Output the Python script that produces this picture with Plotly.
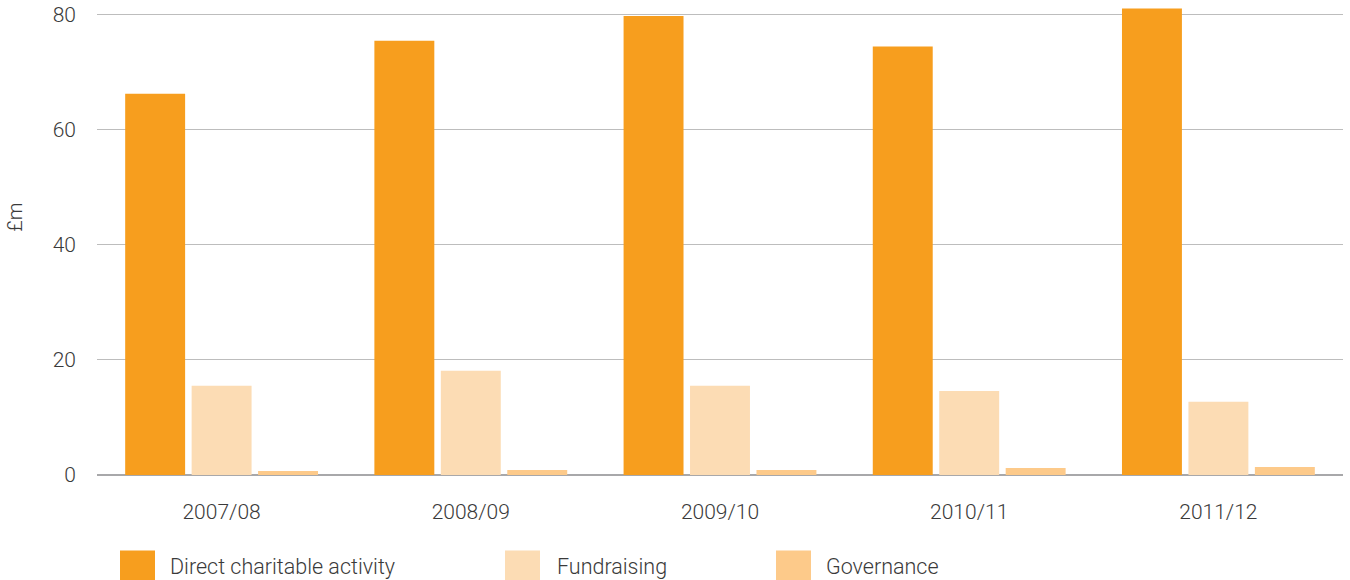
import plotly.graph_objects as go

categories = ["2007/08", "2008/09", "2009/10", "2010/11", "2011/12"]
series_names = ["Direct charitable activity", "Fundraising", "Governance"]
direct = [66.2, 75.4, 79.7, 74.4, 81.0]
fundraising = [15.5, 18.1, 15.5, 14.6, 12.7]
governance = [0.7, 0.85, 0.85, 1.2, 1.4]
y_ticks = [0, 20, 40, 60, 80]
y_title = "£m"

colors = ["#F79E1E", "#FCDCB4", "#FDCA8A"]
values = [direct, fundraising, governance]

FONT = "Roboto"
TXT = "#3a3a3a"
WEIGHT = 300

fig = go.Figure()
for name, vals, col in zip(series_names, values, colors):
    fig.add_trace(go.Bar(x=categories, y=vals, name=name, marker=dict(color=col, line=dict(width=0)),
                         showlegend=False))

W, H = 1350, 580
ml, mr, mt = 97, 7, 2
mb = H - 475.5
pw = W - ml - mr
ph = H - mt - mb
ytop = ph / 5.765

def px_x(px):
    return (px - ml) / pw

def px_y(py):
    return (H - mb - py) / ph

# custom legend
legend_sq = [(120, 155), (505, 540), (776, 811)]
legend_tx = [168, 555, 824]
for (x0, x1), tx, name, col in zip(legend_sq, legend_tx, series_names, colors):
    fig.add_shape(type="rect", xref="paper", yref="paper",
                  x0=px_x(x0), x1=px_x(x1), y0=px_y(551), y1=px_y(600),
                  fillcolor=col, line=dict(width=0))
    fig.add_annotation(xref="paper", yref="paper", x=px_x(tx), y=px_y(567),
                       text=name, showarrow=False, xanchor="left", yanchor="middle",
                       font=dict(family=FONT, size=21.5, color=TXT, weight=WEIGHT))

fig.add_annotation(xref="paper", yref="paper", x=px_x(15), y=px_y(218), text=y_title,
                   textangle=-90, showarrow=False, xanchor="center", yanchor="middle",
                   font=dict(family=FONT, size=20, color=TXT, weight=WEIGHT))

fig.update_layout(
    width=W, height=H,
    margin=dict(l=ml, r=mr, t=mt, b=mb, pad=0),
    paper_bgcolor="white", plot_bgcolor="white",
    barmode="group", bargap=0.2, bargroupgap=0.098,
    font=dict(family=FONT, size=21, color=TXT, weight=WEIGHT),
)
fig.update_xaxes(showgrid=False, showline=False, ticks="", ticklabelstandoff=22,
                 tickfont=dict(family=FONT, size=21, color=TXT, weight=WEIGHT))
fig.update_yaxes(range=[0, ytop], tickvals=y_ticks, showgrid=True, gridcolor="#bdbdbd", gridwidth=1.3,
                 zeroline=True, zerolinecolor="#a8a8aa", zerolinewidth=2.2,
                 showline=False, ticks="", ticklabelstandoff=20,
                 tickfont=dict(family=FONT, size=21, color=TXT, weight=WEIGHT))

fig.write_html("out.html", config={"displayModeBar": False},
               post_script="document.body.style.margin='0px';document.body.style.overflow='hidden';")
